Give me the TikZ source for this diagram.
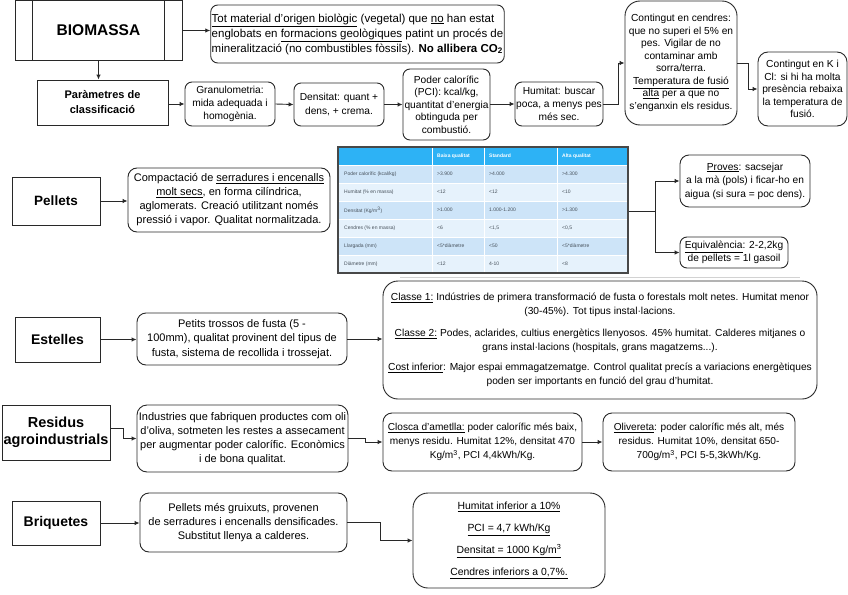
\documentclass[tikz,border=0pt]{standalone}
\usepackage{fontspec}
\setmainfont{Liberation Sans}
\usetikzlibrary{arrows.meta,calc}
\definecolor{ln}{RGB}{40,40,40}
\definecolor{thead}{RGB}{45,178,245}
\definecolor{rowA}{RGB}{205,228,248}
\definecolor{rowB}{RGB}{230,242,252}
\definecolor{ttext}{RGB}{70,80,90}
\begin{document}
\begin{tikzpicture}[x=1pt,y=-1pt,
  box/.style={draw=ln, line width=0.9pt, align=center, inner sep=1pt, font=\fontsize{11}{14.5}\selectfont},
  rbox/.style={box, rounded corners=7pt},
  sbox/.style={rbox, font=\fontsize{10.2}{12.5}\selectfont},
  ttl/.style={draw=ln, line width=0.9pt, align=center, inner sep=1pt, font=\bfseries\fontsize{14}{16}\selectfont},
  arr/.style={draw=ln, line width=0.9pt, -{Latex[length=5pt,width=4.5pt]}},
  lnk/.style={draw=ln, line width=0.9pt},
  tcell/.style={anchor=west, inner sep=0pt, font=\fontsize{5}{6}\selectfont, text=ttext},
  thcell/.style={anchor=west, inner sep=0pt, font=\bfseries\fontsize{5}{6}\selectfont, text=white}]
\useasboundingbox (0,0) rectangle (848,594);

% ---------- BIOMASSA row ----------
\node[ttl, font=\bfseries\fontsize{15.5}{18}\selectfont, minimum width=167pt, minimum height=60pt] (bio) at (98.5,30.5) {BIOMASSA};
\draw[lnk] ($(bio.north west)+(18,0)$) -- ($(bio.south west)+(18,0)$);
\draw[lnk] ($(bio.north east)+(-18,0)$) -- ($(bio.south east)+(-18,0)$);

\node[rbox, align=left, font=\fontsize{11.5}{15}\selectfont, minimum width=289pt, minimum height=58pt] (def) at (357.5,34)
 {\underline{Tot material d'origen biològic} (vegetal) que \underline{no} han estat\\
  englobats en \underline{formacions geològiques} patint un procés de\\
  mineralització (no combustibles fòssils). \textbf{No allibera CO\textsubscript{2}}};

\node[box, font=\bfseries\fontsize{11}{15}\selectfont, minimum width=131pt, minimum height=45pt] (par) at (102.5,102.5) {Paràmetres de\\classificació};
\node[sbox, font=\fontsize{10.2}{13.3}\selectfont, minimum width=90pt, minimum height=44pt] (gra) at (230,104) {Granulometria:\\mida adequada i\\homogènia.};
\node[sbox, font=\fontsize{10.2}{13.3}\selectfont, minimum width=90pt, minimum height=43pt] (den) at (339,104.5) {Densitat: quant +\\dens, + crema.};
\node[sbox, minimum width=87pt, minimum height=71pt] (pod) at (446.5,104.5) {Poder calorífic\\(PCI): kcal/kg,\\quantitat d'energia\\obtinguda per\\combustió.};
\node[sbox, font=\fontsize{10.2}{13.3}\selectfont, minimum width=88pt, minimum height=44pt] (hum) at (559,104) {Humitat: buscar\\poca, a menys pes\\més sec.};
\node[sbox, rounded corners=15pt, minimum width=112pt, minimum height=124pt] (cen) at (681,63)
 {Contingut en cendres:\\que no superi el 5\% en\\pes. Vigilar de no\\contaminar amb\\sorra/terra.\\\underline{Temperatura de fusió}\\\underline{alta} per a que no\\s'enganxin els residus.};
\node[sbox, rounded corners=10pt, minimum width=89pt, minimum height=74pt] (kcl) at (802.5,89) {Contingut en K i\\Cl: si hi ha molta\\presència rebaixa\\la temperatura de\\fusió.};

\draw[arr] (bio.east) -- (bio.east -| def.west);
\draw[arr] (bio.south) -- (bio.south |- par.north);
\draw[arr] (par.east |- gra.west) -- (gra.west);
\draw[arr] (gra.east) -- (den.west);
\draw[arr] (den.east) -- (den.east -| pod.west);
\draw[arr] (pod.east |- hum.west) -- (hum.west);
\draw[arr] (hum.east) -- ++(15,0) |- (cen.west);
\draw[arr] (cen.east) -- ++(11,0) |- (kcl.west);

% ---------- Pellets ----------
\node[ttl, font=\bfseries\fontsize{13.5}{16}\selectfont, minimum width=88pt, minimum height=48pt] (pel) at (56,201) {Pellets};
\node[rbox, rounded corners=9pt, font=\fontsize{11}{14}\selectfont, minimum width=202pt, minimum height=64pt] (peld) at (229,200)
 {Compactació de \underline{serradures i encenalls}\\\underline{molt secs}, en forma cilíndrica,\\aglomerats. Creació utilitzant només\\pressió i vapor. Qualitat normalitzada.};
\draw[arr] (pel.east) -- (pel.east -| peld.west);

% table
\fill[thead] (338,147) rectangle (628,165);
\foreach \i/\c in {0/rowA,1/rowB,2/rowA,3/rowB,4/rowA,5/rowB}
  \fill[\c] (338,165+18*\i) rectangle (628,183+18*\i);
\foreach \xx in {432,484,557} \draw[white, line width=1pt] (\xx,147) -- (\xx,273);
\foreach \i in {1,...,5} \draw[white, line width=1pt] (338,165+18*\i) -- (628,165+18*\i);
\draw[white, line width=1pt] (338,165) -- (628,165);
\node[thcell] (th1) at (437,156) {Baixa qualitat};
\node[thcell] (th2) at (489,156) {Standard};
\node[thcell] (th3) at (562,156) {Alta qualitat};
\foreach \i/\pa/\pb/\pc/\pd in {0/{Poder calorífic (kcal/kg)}/{>3.900}/{>4.000}/{>4.300},
  1/{Humitat (\% en massa)}/{<12}/{<12}/{<10},
  2/{Densitat (Kg/m\textsuperscript{3})}/{>1.000}/{1.000-1.200}/{>1.300},
  3/{Cendres (\% en massa)}/{<6}/{<1,5}/{<0,5},
  4/{Llargada (mm)}/{<5*diàmetre}/{<50}/{<5*diàmetre},
  5/{Diàmetre (mm)}/{<12}/{4-10}/{<8}}
{
  \node[tcell] (ta\i) at (344,174+18*\i) {\pa};
  \node[tcell] (tb\i) at (437,174+18*\i) {\pb};
  \node[tcell] (tc\i) at (489,174+18*\i) {\pc};
  \node[tcell] (td\i) at (562,174+18*\i) {\pd};
}
\node[draw=ln!85, line width=1.3pt, minimum width=290pt, minimum height=126pt, inner sep=0pt] (tbl) at (483,210) {};
\draw[gray!35, line width=0.8pt] (400,277) -- (800,277);

\node[sbox, rounded corners=9pt, font=\fontsize{10.2}{13.5}\selectfont, minimum width=130pt, minimum height=52pt] (pro) at (745,181) {\underline{Proves}: sacsejar\\a la mà (pols) i ficar-ho en\\aigua (si sura = poc dens).};
\node[sbox, rounded corners=7pt, font=\fontsize{10.2}{13.5}\selectfont, minimum width=108pt, minimum height=31pt] (equ) at (734,252.5) {\underline{Equivalència}: 2-2,2kg\\de pellets = 1l gasoil};
\coordinate (br) at (655,211);
\draw[lnk] (tbl.east |- br) -- (br);
\draw[arr] (br) |- (pro.west);
\draw[arr] (br) |- (equ.west);

% ---------- Estelles ----------
\node[ttl, minimum width=85pt, minimum height=45pt] (est) at (57.5,339.5) {Estelles};
\node[rbox, rounded corners=9pt, minimum width=210pt, minimum height=52pt] (estd) at (242,339)
 {Petits trossos de fusta (5 -\\100mm), qualitat provinent del tipus de\\fusta, sistema de recollida i trossejat.};
\node[box, rounded corners=15pt, font=\fontsize{10.2}{14}\selectfont, minimum width=434pt, minimum height=118pt] (cla) at (600,340)
 {\underline{Classe 1:} Indústries de primera transformació de fusta o forestals molt netes. Humitat menor\\
  (30-45\%). Tot tipus instal·lacions.\\[8pt]
  \underline{Classe 2:} Podes, aclarides, cultius energètics llenyosos. 45\% humitat. Calderes mitjanes o\\
  grans instal·lacions (hospitals, grans magatzems...).\\[6pt]
  \underline{Cost inferior}: Major espai emmagatzematge. Control qualitat precís a variacions energètiques\\
  poden ser importants en funció del grau d'humitat.};
\draw[arr] (est.east) -- (est.east -| estd.west);
\draw[arr] (estd.east) -- (estd.east -| cla.west);

% ---------- Residus ----------
\node[ttl, font=\bfseries\fontsize{14.5}{17}\selectfont, minimum width=108pt, minimum height=55pt] (res) at (56,432.5) {Residus\\agroindustrials};
\node[rbox, rounded corners=10pt, font=\fontsize{11}{14}\selectfont, minimum width=211pt, minimum height=67pt] (resd) at (242.5,438.5)
 {Industries que fabriquen productes com oli\\d'oliva, sotmeten les restes a assecament\\per augmentar poder calorífic. Econòmics\\i de bona qualitat.};
\node[sbox, rounded corners=9pt, font=\fontsize{10.1}{14}\selectfont, minimum width=199pt, minimum height=58pt] (clo) at (482.5,442)
 {\underline{Closca d'ametlla:} poder calorífic més baix,\\menys residu. Humitat 12\%, densitat 470\\Kg/m\textsuperscript{3}, PCI 4,4kWh/Kg.};
\node[sbox, rounded corners=9pt, font=\fontsize{10.1}{14}\selectfont, minimum width=192pt, minimum height=58pt] (oli) at (699,442)
 {\underline{Olivereta}: poder calorífic més alt, més\\residus. Humitat 10\%, densitat 650-\\700g/m\textsuperscript{3}, PCI 5-5,3kWh/Kg.};
\draw[arr] ($(res.east)+(0,-4)$) -- ++(13,0) |- (resd.west);
\draw[arr] (resd.east) -- ++(17,0) |- (clo.west);
\draw[arr] (clo.east) -- (oli.west);

% ---------- Briquetes ----------
\node[ttl, minimum width=88pt, minimum height=44pt] (bri) at (56,523) {Briquetes};
\node[rbox, rounded corners=9pt, font=\fontsize{11}{14}\selectfont, minimum width=207pt, minimum height=59pt] (brid) at (243.5,522.5)
 {Pellets més gruixuts, provenen\\de serradures i encenalls densificades.\\Substitut llenya a calderes.};
\node[sbox, rounded corners=15pt, font=\fontsize{10.4}{13}\selectfont, minimum width=192pt, minimum height=95pt] (brd) at (509,540.5)
 {\underline{Humitat inferior a 10\%}\\[9pt]\underline{PCI = 4,7 kWh/Kg}\\[9pt]\underline{Densitat = 1000 Kg/m\textsuperscript{3}}\\[9pt]\underline{Cendres inferiors a 0,7\%.}};
\draw[arr] (bri.east) -- (bri.east -| brid.west);
\draw[arr] (brid.east) -- ++(33,0) |- (brd.west);
\end{tikzpicture}
\end{document}
